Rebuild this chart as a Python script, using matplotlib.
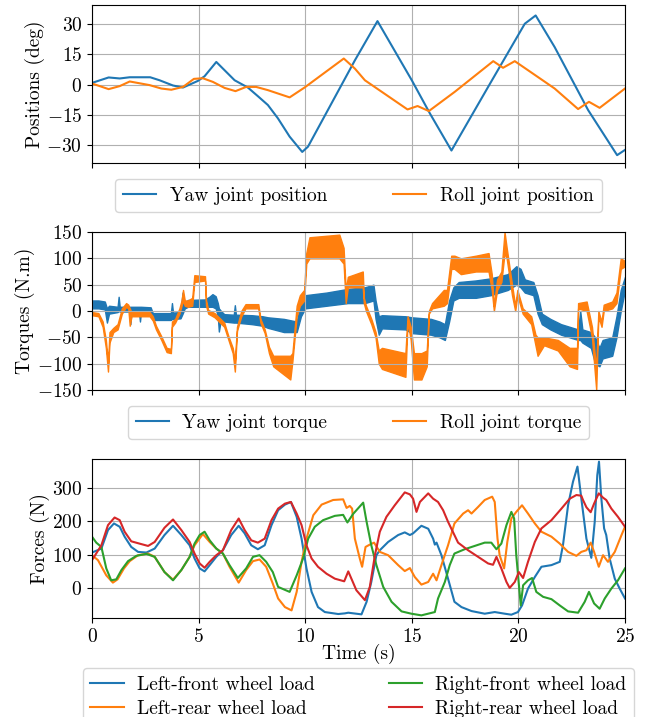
import matplotlib
matplotlib.use("Agg")
import matplotlib.pyplot as plt
from matplotlib.lines import Line2D

plt.rcParams['font.family'] = ['cmr10', 'DejaVu Serif']
plt.rcParams['mathtext.fontset'] = 'cm'
plt.rcParams['axes.formatter.use_mathtext'] = True
plt.rcParams['font.size'] = 14
plt.rcParams['axes.unicode_minus'] = True

# ---------------- Joint positions (deg) ----------------
yaw_pos_t = [0, 0.78, 1.3, 1.77, 2.73, 3.17, 3.8, 4.27, 4.97, 5.28, 5.83, 6.69, 7.31, 7.78, 8.25,
             8.72, 9.27, 9.86, 10.13, 12.33, 13.39, 15.0, 15.85, 16.86, 18.58, 20.3, 20.81, 21.7,
             23.27, 24.63, 25.0]
yaw_pos = [0.8, 3.5, 3.0, 3.6, 3.6, 2.1, -0.5, -1.5, 1.8, 4.1, 11.2, 2.1, -1.5, -5.8, -10.2,
           -16.8, -25.9, -33.5, -30.9, 12.0, 31.5, 2.1, -14.4, -32.8, -1.2, 30.2, 34.3, 18.6,
           -12.7, -35.1, -32.5]

roll_pos_t = [0, 0.78, 1.3, 1.77, 2.7, 3.25, 3.72, 4.27, 4.78, 5.2, 5.67, 6.22, 6.73, 7.23, 7.7,
              8.25, 9.27, 9.97, 11.81, 12.33, 12.8, 14.8, 15.27, 15.8, 17.02, 18.82, 19.28, 19.83,
              20.45, 21.7, 22.8, 23.31, 23.81, 25.0]
roll_pos = [0.5, -2.3, -0.8, 1.5, -0.3, -2.0, -2.6, -1.2, 2.8, 3.1, 1.3, -1.7, -3.3, -1.2, -1.2,
            -2.8, -6.4, -1.5, 12.9, 7.9, 2.1, -12.4, -10.7, -13.2, -3.6, 11.6, 8.3, 11.6,
            7.1, -2.0, -12.2, -8.6, -11.6, -2.0]

# ---------------- Joint torques (N.m): noisy band, low / high envelope ----------------
yaw_tq_t = [0, 0.3, 0.6, 0.7, 0.8, 1.2, 1.25, 1.3, 1.75, 1.8, 1.85, 2.2, 2.25, 2.3, 2.75,
            2.85, 3.7, 3.75, 3.8, 4.15, 4.25, 4.35, 4.5, 5.3, 5.5, 5.65, 5.8, 5.9, 5.95, 6.05,
            6.2, 6.65, 6.7, 6.75, 7.5, 8.0, 8.25, 9.0, 9.6, 9.8, 10.0, 11.0, 12.0, 12.8, 13.2,
            13.3, 13.45, 13.6, 14.7, 15.0, 15.9, 16.3, 16.55, 16.75, 16.95, 17.2, 18.0, 18.7, 19.5,
            19.9, 20.1, 20.3, 20.7, 20.9, 21.1, 21.5, 22.0, 22.8, 22.9, 23.0, 23.4, 23.6, 23.8,
            23.95, 24.4, 24.6, 24.8, 25.0]
yaw_tq_lo = [5, 5, 3, -22, -5, -2, 0, -1, -1, -25, -1, -1, -20, -1, -2,
             -17, -17, -15, -15, -14, -5, 5, 8, 8, 8, 8, 5, -10, -39, -15,
             -20, -22, -22, -22, -25, -28, -32, -40, -40, -10, 5, 10, 15, 15, 20,
             -15, -45, -33, -35, -42, -45, -50, -55, -20, 20, 25, 25, 30, 40,
             50, 45, 35, 30, -5, -25, -35, -45, -55, -55, -60, -70, -100, -105,
             -90, -85, -50, 0, 40]
yaw_tq_hi = [20, 20, 18, 5, 10, 8, 27, 8, 8, 8, 8, 8, 8, 8, 7,
             -4, -4, 15, -3, -2, 35, 15, 21, 22, 27, 32, 28, 15, 5, 0,
             -6, -7, 11, -7, -8, -10, -12, -15, -20, 15, 30, 35, 42, 45, 50,
             20, -10, -8, -10, -12, -15, -20, -25, 20, 45, 55, 58, 62, 70,
             85, 80, 60, 55, 30, -5, -15, -25, -35, 0, -35, -40, -50, -70,
             -55, -50, -10, 40, 65]

roll_tq_t = [0, 0.3, 0.5, 0.65, 0.75, 0.82, 1.0, 1.2, 1.4, 1.6, 1.7, 1.77, 1.85, 2.7, 2.85,
             3.0, 3.25, 3.5, 3.7, 3.75, 3.9, 4.1, 4.2, 4.27, 4.35, 4.5, 4.7, 4.8, 5.3, 5.35,
             5.45, 5.75, 5.95, 6.2, 6.4, 6.6, 6.7, 6.8, 7.0, 7.2, 7.8, 7.9, 8.1, 8.3, 8.5,
             9.3, 9.4, 9.6, 9.75, 9.95, 10.05, 10.2, 11.6, 11.8, 11.9, 12.0, 12.7, 12.75, 12.85,
             13.1, 13.3, 13.45, 13.6, 14.7, 14.8, 14.95, 15.1, 15.45, 15.7, 15.8, 15.95, 16.5,
             16.65, 16.85, 17.0, 17.3, 18.0, 18.6, 18.75, 18.85, 19.0, 19.2, 19.35, 19.45, 19.7,
             19.85, 19.95, 20.2, 20.6, 20.8, 20.9, 21.2, 21.85, 22.4, 22.75, 22.8, 23.2, 23.45,
             23.65, 23.75, 23.9, 24.0, 24.4, 24.6, 24.8, 25.0]
roll_tq_lo = [-8, -10, -30, -70, -115, -60, -40, -35, -5, 8, 5, -28, -10, -10, -18,
              -35, -55, -78, -80, -30, -22, -5, 10, 20, 10, 8, 10, 55, 58, 10,
              -5, -12, -20, -30, -55, -80, -115, -38, -10, 5, 5, -22, -42, -80, -105,
              -130, -95, -10, 10, 20, 90, 100, 100, 90, 15, 45, 45, 15, 0,
              -25, -50, -100, -110, -125, -20, -55, -130, -130, -105, -5, 5, 10,
              15, 80, 80, 70, 75, 75, 40, 0, 40, 55, 110, 100, 30,
              0, 30, -5, -25, -65, -85, -65, -75, -105, -110, 5, 0, -50,
              -150, -10, -30, 0, 5, 15, 80, 85]
roll_tq_hi = [-2, -4, -20, -55, -100, -40, -32, -25, 5, 15, 12, 5, -2, -2, -10,
              -28, -48, -70, -72, -20, -15, 5, 20, 40, 20, 20, 25, 68, 66, 20,
              2, -4, -12, -22, -48, -70, -95, -30, 0, 13, 13, -15, -35, -68, -85,
              -85, -80, 10, 30, 40, 110, 140, 145, 120, 40, 65, 75, 25, 10,
              -15, -40, -75, -70, -80, -10, -30, -80, -80, -75, 0, 15, 40,
              40, 105, 105, 100, 105, 110, 70, 10, 60, 75, 150, 120, 50,
              10, 40, 5, -10, -45, -50, -50, -55, -70, -70, 15, 18, -30,
              -110, 0, -20, 12, 18, 35, 100, 95]

# ---------------- Wheel loads (N) ----------------
lf_t = [0, 0.44, 0.75, 1.03, 1.3, 1.53, 1.84, 2.16, 2.55, 2.94, 3.4, 3.8, 4.19, 4.58, 4.81,
        5.05, 5.28, 5.52, 5.83, 6.14, 6.53, 6.88, 7.16, 7.47, 7.78, 8.1, 8.42, 8.73, 9.05, 9.33,
        9.6, 9.83, 10.06, 10.3, 10.6, 10.92, 11.55, 11.86, 12.02, 12.64, 12.88, 13.1, 13.34,
        13.5, 13.89, 14.36, 14.67, 14.91, 15.06, 15.45, 15.77, 16.0, 16.08, 16.16, 16.39, 16.7,
        17.0, 17.33, 17.8, 18.42, 18.89, 19.36, 19.67, 19.98, 20.17, 20.45, 20.77, 21.08, 21.55,
        21.94, 22.09, 22.33, 22.56, 22.77, 22.95, 23.19, 23.42, 23.58, 23.7, 23.78, 23.89, 24.02,
        24.12, 24.28, 24.52, 24.75, 25.0]
lf_load = [106, 118, 174, 194, 184, 154, 123, 108, 106, 118, 159, 187, 159, 128, 88,
           58, 49, 68, 93, 113, 159, 187, 164, 128, 116, 128, 189, 234, 251, 259,
           214, 148, 58, -13, -59, -74, -80, -78, -76, -81, -43, 17, 98,
           113, 138, 159, 167, 159, 164, 187, 178, 148, 130, 136, 98, 27,
           -43, -59, -71, -79, -74, -79, -82, -74, -54, -3, 32, 63, 68,
           78, 128, 249, 320, 366, 270, 148, 90, 199, 340, 381, 270, 179,
           159, 88, 27, -3, -33]

lr_t = [0, 0.28, 0.67, 0.98, 1.2, 1.5, 1.77, 2.16, 2.63, 2.94, 3.4, 3.8, 4.19, 4.58, 4.81,
        5.2, 5.52, 5.83, 6.14, 6.45, 6.88, 7.23, 7.55, 7.86, 8.17, 8.48, 8.73, 9.05, 9.36, 9.6,
        9.83, 10.06, 10.38, 10.77, 11.31, 11.78, 11.94, 12.09, 12.2, 12.33, 12.56, 12.67, 12.83,
        13.03, 13.23, 13.5, 13.89, 14.36, 14.67, 14.91, 15.14, 15.45, 15.77, 16.0, 16.16, 16.39,
        16.7, 17.0, 17.41, 17.64, 17.8, 18.11, 18.42, 18.77, 18.89, 19.02, 19.12, 19.33, 19.48,
        19.67, 19.9, 20.17, 20.45, 20.77, 21.08, 21.55, 21.94, 22.33, 22.72, 22.95, 23.19, 23.39,
        23.55, 23.77, 23.97, 24.2, 24.52, 24.83, 25.0]
lr_load = [98, 83, 37, 15, 25, 58, 80, 98, 103, 93, 47, 24, 53, 93, 128,
           162, 138, 118, 103, 63, 15, 53, 80, 85, 63, 12, -33, -59, -69, -13,
           78, 148, 219, 251, 265, 267, 241, 247, 239, 148, 88, 63, 123,
           130, 136, 108, 98, 68, 50, 59, 32, 9, 17, 42, 22, 68,
           128, 194, 224, 234, 224, 244, 265, 275, 259, 148, 98, 58, 138,
           209, 229, 249, 224, 194, 169, 154, 133, 108, 96, 108, 113, 136,
           108, 63, 98, 78, 108, 158, 184]

rf_t = [0, 0.2, 0.44, 0.67, 0.9, 1.14, 1.38, 1.69, 2.08, 2.55, 2.94, 3.4, 3.8, 4.19, 4.58,
        4.81, 5.05, 5.28, 5.52, 5.83, 6.14, 6.45, 6.84, 7.23, 7.55, 7.86, 8.17, 8.48, 8.73, 9.27,
        9.6, 9.9, 10.14, 10.45, 10.84, 11.39, 11.78, 11.98, 12.25, 12.72, 12.88, 13.1, 13.34,
        13.66, 14.05, 14.52, 14.98, 15.45, 16.08, 16.23, 16.55, 16.78, 17.0, 17.48, 17.95, 18.42,
        18.73, 18.97, 19.2, 19.44, 19.67, 19.8, 19.9, 20.11, 20.22, 20.45, 20.64, 20.84, 21.16,
        21.55, 21.94, 22.33, 22.8, 23.11, 23.31, 23.55, 23.81, 24.05, 24.36, 24.67, 25.0]
rf_load = [154, 136, 123, 58, 22, 25, 53, 80, 96, 102, 93, 47, 22, 53, 93,
           133, 159, 169, 143, 118, 103, 68, 29, 58, 93, 98, 78, 47, 2, -13,
           37, 88, 148, 184, 204, 217, 220, 197, 223, 257, 199, 128, 68,
           2, -43, -72, -79, -84, -74, -33, 17, 68, 103, 116, 126, 136,
           136, 116, 133, 189, 229, 209, 98, -54, 7, 22, 29, -13, -28,
           -35, -54, -72, -76, -43, -13, -48, -64, -33, -3, 22, 58]

rr_t = [0, 0.44, 0.75, 1.06, 1.3, 1.53, 1.84, 2.23, 2.63, 2.94, 3.4, 3.8, 4.19, 4.58, 4.81,
        5.05, 5.28, 5.52, 5.83, 6.14, 6.53, 6.88, 7.16, 7.47, 7.78, 8.1, 8.42, 8.73, 9.05, 9.33,
        9.6, 9.83, 10.06, 10.3, 10.6, 11.0, 11.39, 11.83, 12.02, 12.2, 12.4, 12.8, 13.03, 13.27,
        13.5, 13.81, 14.2, 14.67, 14.91, 15.06, 15.22, 15.38, 15.77, 16.0, 16.23, 16.47, 16.7,
        17.17, 17.64, 18.11, 18.58, 18.81, 18.97, 19.2, 19.44, 19.59, 19.83, 20.02, 20.22, 20.45,
        20.77, 21.08, 21.55, 22.02, 22.41, 22.72, 22.95, 23.03, 23.19, 23.39, 23.55, 23.77, 23.97,
        24.12, 24.36, 24.67, 25.0]
rr_load = [83, 128, 189, 212, 204, 169, 140, 133, 126, 138, 181, 206, 174, 138, 103,
           73, 60, 78, 98, 113, 174, 209, 174, 143, 136, 148, 204, 239, 254, 259,
           224, 189, 128, 88, 63, 42, 27, 19, 49, 22, -8, -38, 2, 98,
           169, 214, 249, 288, 282, 269, 229, 259, 285, 269, 259, 234, 199,
           136, 113, 93, 73, 69, 93, 58, 17, -1, 17, 47, 29, 78,
           138, 179, 204, 239, 269, 280, 278, 265, 243, 228, 254, 285, 272,
           265, 239, 214, 184]

pos_ticks = [-30, -15, 0, 15, 30]
tq_ticks = [-150, -100, -50, 0, 50, 100, 150]
load_ticks = [0, 100, 200, 300]
time_ticks = [0, 5, 10, 15, 20, 25]

C_BLUE, C_ORANGE, C_GREEN, C_RED = '#1f77b4', '#ff7f0e', '#2ca02c', '#d62728'

W, H = 652, 717
fig = plt.figure(figsize=(W / 100, H / 100), dpi=100)

def box(top, bottom, left=92, right=625):
    return [left / W, 1 - bottom / H, (right - left) / W, (bottom - top) / H]

ax1 = fig.add_axes(box(5, 163))
ax2 = fig.add_axes(box(232, 390), sharex=ax1)
ax3 = fig.add_axes(box(459, 618), sharex=ax1)

leg_kw = dict(loc='upper center', ncol=2, borderaxespad=0, handlelength=1.7,
              handletextpad=0.7, labelspacing=0.3)

# Positions
ax1.plot(yaw_pos_t, yaw_pos, color=C_BLUE, lw=1.5, label='Yaw joint position')
ax1.plot(roll_pos_t, roll_pos, color=C_ORANGE, lw=1.5, label='Roll joint position')
ax1.set_ylim(-39, 39.5)
ax1.set_yticks(pos_ticks)
ax1.set_ylabel('Positions (deg)', labelpad=1)
ax1.legend(bbox_to_anchor=(0.5, -0.1), columnspacing=3.4, **leg_kw)

# Torques
ax2.fill_between(yaw_tq_t, yaw_tq_lo, yaw_tq_hi, color=C_BLUE, lw=1.0)
ax2.fill_between(roll_tq_t, roll_tq_lo, roll_tq_hi, color=C_ORANGE, lw=1.0)
ax2.set_ylim(-150, 150)
ax2.set_yticks(tq_ticks)
ax2.set_ylabel('Torques (N.m)', labelpad=1)
handles = [Line2D([], [], color=C_BLUE, lw=1.5), Line2D([], [], color=C_ORANGE, lw=1.5)]
ax2.legend(handles, ['Yaw joint torque', 'Roll joint torque'],
           bbox_to_anchor=(0.5, -0.1), columnspacing=3.4, **leg_kw)

# Loads
ax3.plot(lf_t, lf_load, color=C_BLUE, lw=1.5, label='Left-front wheel load')
ax3.plot(lr_t, lr_load, color=C_ORANGE, lw=1.5, label='Left-rear wheel load')
ax3.plot(rf_t, rf_load, color=C_GREEN, lw=1.5, label='Right-front wheel load')
ax3.plot(rr_t, rr_load, color=C_RED, lw=1.5, label='Right-rear wheel load')
ax3.set_ylim(-92, 389)
ax3.set_yticks(load_ticks)
ax3.set_ylabel('Forces (N)', labelpad=1)
ax3.set_xlabel('Time (s)', labelpad=-1)
ax3.legend(bbox_to_anchor=(0.5, -0.315), columnspacing=3.8, **leg_kw)

for ax in (ax1, ax2, ax3):
    ax.grid(True)
    ax.set_xlim(0, 25)
    ax.set_xticks(time_ticks)
ax1.tick_params(labelbottom=False)
ax2.tick_params(labelbottom=False)

fig.savefig('out.png', dpi=100)
